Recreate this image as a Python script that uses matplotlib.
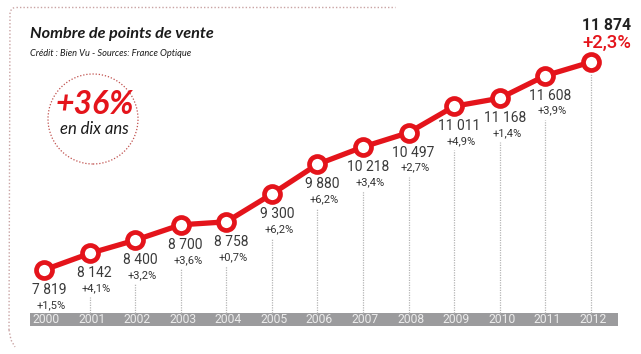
import matplotlib
matplotlib.use("Agg")
import matplotlib.pyplot as plt
from matplotlib.patches import Rectangle, Ellipse
from matplotlib.lines import Line2D
import matplotlib.transforms as mtransforms

years = [2000, 2001, 2002, 2003, 2004, 2005, 2006, 2007, 2008, 2009, 2010, 2011, 2012]
values = [7819, 8142, 8400, 8700, 8758, 9300, 9880, 10218, 10497, 11011, 11168, 11608, 11874]
value_labels = ["7 819", "8 142", "8 400", "8 700", "8 758", "9 300", "9 880", "10 218",
                "10 497", "11 011", "11 168", "11 608", "11 874"]
growth_labels = ["+1,5%", "+4,1%", "+3,2%", "+3,6%", "+0,7%", "+6,2%", "+6,2%", "+3,4%",
                 "+2,7%", "+4,9%", "+1,4%", "+3,9%", "+2,3%"]
title = "Nombre de points de vente"
subtitle = "Crédit : Bien Vu - Sources: France Optique"
badge_big = "+36%"
badge_small = "en dix ans"

RED = "#e4141b"
W, H = 641, 354
fig = plt.figure(figsize=(W / 100, H / 100), dpi=100)
ax = fig.add_axes([0, 0, 1, 1])
ax.set_axis_off()
ax.set_xlim(1999.035, 2013.098)
ax.set_ylim(6181, 13083)

def fy(py):
    return 1 - py / H

def fx(px):
    return px / W

# gray year bar
trans = mtransforms.blended_transform_factory(ax.transData, ax.transAxes)
bar_bottom, bar_top = fy(326), fy(313)
ax.add_patch(Rectangle((1999.69, bar_bottom), 2012.59 - 1999.69, bar_top - bar_bottom,
                       transform=trans, facecolor="#9b9b9d", edgecolor="none", zorder=1))
for yr in years:
    ax.annotate(str(yr), (yr, (bar_top + bar_bottom) / 2), xycoords=trans,
                xytext=(2, 0), textcoords="offset pixels", ha="center", va="center",
                fontsize=8.7, color="#ececec", family="Roboto", zorder=3)

# dotted vertical guides
y0, y1 = ax.get_ylim()
ybar = y0 + bar_top * (y1 - y0)
px_unit = (y1 - y0) / H
for i, (yr, v) in enumerate(zip(years, values)):
    top = v - (12 if i == len(years) - 1 else 44) * px_unit
    ax.plot([yr, yr], [ybar, top], ls=(0, (1, 1)), color="#b5b5b5", lw=0.9, zorder=1)

# line with ring markers
ax.plot(years, values, color=RED, lw=3.8, zorder=4, solid_capstyle="round")
ax.plot(years, values, ls="none", marker="o", ms=11.5, mew=3.4, mec=RED, mfc="white", zorder=5)

# value labels
for i, (yr, v) in enumerate(zip(years, values)):
    if i == len(years) - 1:
        ax.annotate(value_labels[i], (yr, v), xytext=(16, 37), textcoords="offset pixels",
                    ha="center", va="center", fontsize=11.3, color="#222222",
                    family="Roboto", fontweight="bold", zorder=6)
        ax.annotate(growth_labels[i], (yr, v), xytext=(16, 19), textcoords="offset pixels",
                    ha="center", va="center", fontsize=13.3, color=RED,
                    family="Roboto", fontweight="medium", zorder=6)
    else:
        ax.annotate(value_labels[i], (yr, v), xytext=(5, -20), textcoords="offset pixels",
                    ha="center", va="center", fontsize=10, color="#3a3a3a",
                    family="Roboto", zorder=6)
        ax.annotate(growth_labels[i], (yr, v), xytext=(7, -35), textcoords="offset pixels",
                    ha="center", va="center", fontsize=8, color="#333333",
                    family="Roboto", zorder=6)

# title and subtitle
fig.text(fx(30), fy(34), title, ha="left", va="center", fontsize=11.7,
         family="Lato", fontweight="bold", style="italic", color="#1a1a1a")
fig.text(fx(30), fy(53), subtitle, ha="left", va="center", fontsize=6.7,
         family="Lato", style="italic", color="#1a1a1a")

# badge circle
fig.add_artist(Ellipse((fx(93), fy(119)), 90 / W, 90 / H, transform=fig.transFigure,
                       facecolor="none", edgecolor="#c0504d", lw=0.9, ls=(0, (1, 1.5))))
fig.text(fx(95), fy(105), badge_big, ha="center", va="center", fontsize=23,
         family="Lato", fontweight="bold", style="italic", color=RED)
fig.text(fx(94), fy(129), badge_small, ha="center", va="center", fontsize=12,
         family="Lato", style="italic", color="#1a1a1a")

# dotted frame (top and left)
border_col = "#c9a3a3"
fig.add_artist(Line2D([fx(16), fx(395)], [fy(7), fy(7)], transform=fig.transFigure,
                      color=border_col, lw=1, ls=(0, (1, 1.5))))
fig.add_artist(Line2D([fx(9), fx(10), fx(12), fx(16)], [fy(330), fy(12), fy(8.5), fy(7)],
                      transform=fig.transFigure, color=border_col, lw=1, ls=(0, (1, 1.5))))
fig.add_artist(Line2D([fx(9), fx(11), fx(15)], [fy(330), fy(340), fy(347)],
                      transform=fig.transFigure, color=border_col, lw=1, ls=(0, (1, 1.5))))

fig.savefig("out.png", dpi=100)
